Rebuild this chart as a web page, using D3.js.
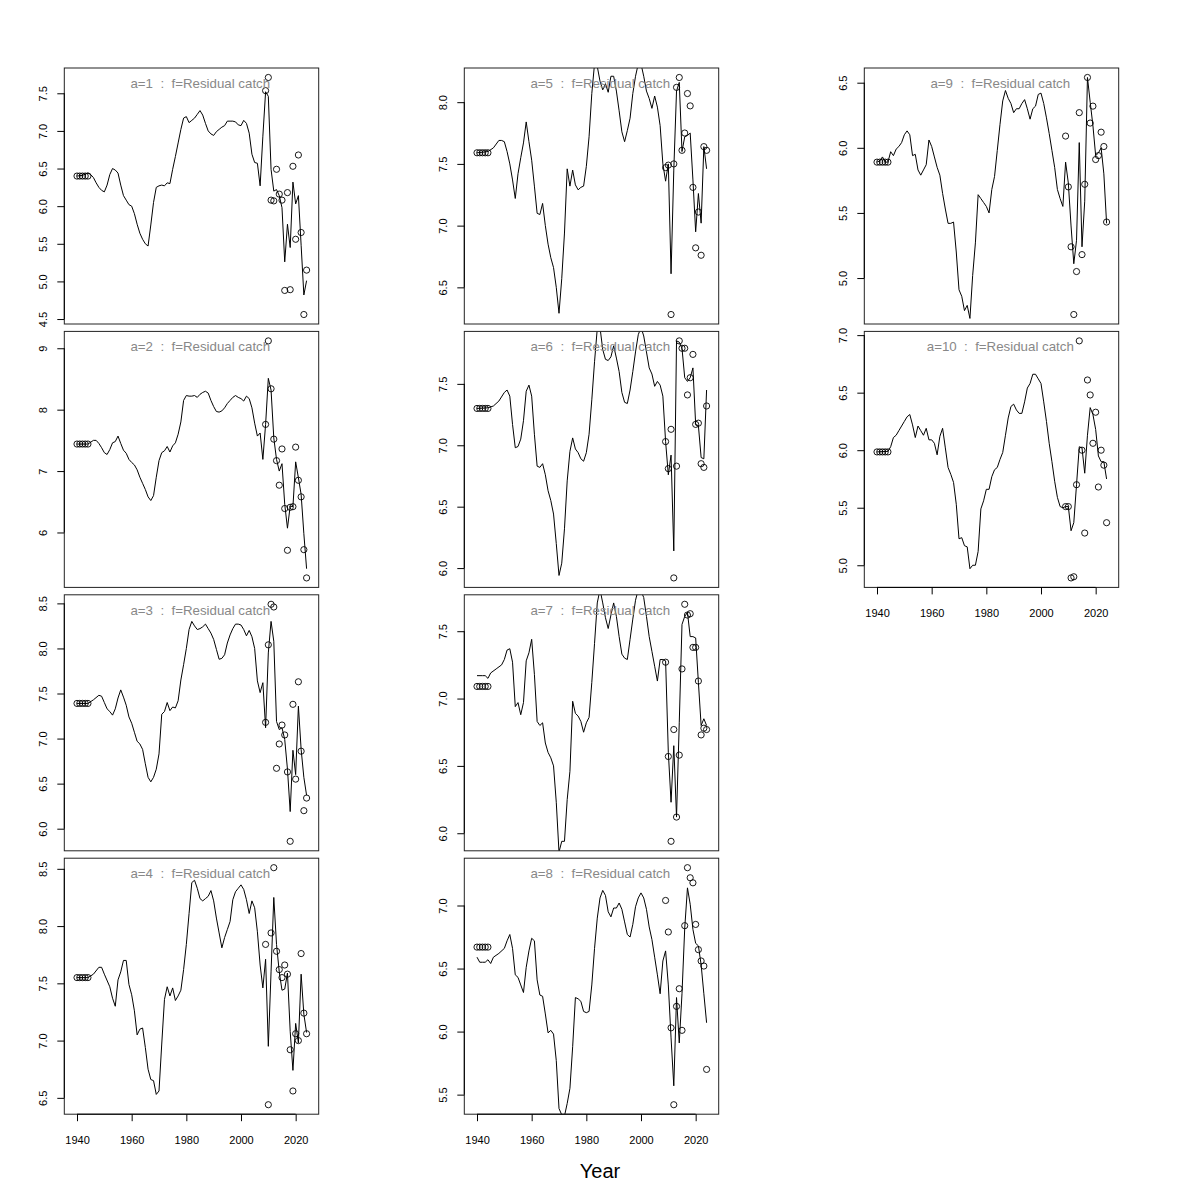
<!DOCTYPE html>
<html><head><meta charset="utf-8">
<script src="https://cdn.jsdelivr.net/npm/d3@7"></script>
<style>body{margin:0;background:#fff}svg{display:block}</style>
</head><body>
<svg id="chart" width="1200" height="1200"></svg>
<script>
// ---------- data ----------
const panelLabels = ["a=1","a=2","a=3","a=4","a=5","a=6","a=7","a=8","a=9","a=10"];
const fleetLabel = "f=Residual catch";
const xTickYears = [1940,1960,1980,2000,2020];
const obsYears = [1940,1941,1942,1943,1944,2009,2010,2011,2012,2013,2014,2015,2016,2017,2018,2019,2020,2021,2022,2023,2024];

const obsA1 = [6.40,6.40,6.40,6.40,6.40,7.535,7.71,6.08,6.07,6.49,6.16,6.08,4.88,6.18,4.89,6.53,5.56,6.68,5.65,4.56,5.15];
const obsA2 = [7.44,7.44,7.44,7.44,7.44,7.76,9.12,8.34,7.52,7.17,6.77,7.36,6.39,5.71,6.41,6.42,7.39,6.85,6.58,5.72,5.26];
const obsA3 = [7.39,7.39,7.39,7.39,7.39,7.18,8.04,8.49,8.46,6.67,6.94,7.15,7.04,6.63,5.86,7.38,6.55,7.63,6.86,6.20,6.34];
const obsA4 = [7.55,7.55,7.55,7.55,7.55,7.84,6.44,7.94,8.51,7.78,7.62,7.55,7.66,7.58,6.92,6.56,7.06,7.00,7.76,7.24,7.06];
const obsA5 = [7.59,7.59,7.59,7.59,7.59,7.47,7.49,6.28,7.50,8.12,8.20,7.61,7.75,8.07,7.97,7.31,6.82,7.11,6.76,7.64,7.61];
const obsA6 = [7.30,7.30,7.30,7.30,7.30,7.03,6.81,7.13,5.92,6.83,7.85,7.79,7.79,7.41,7.55,7.74,7.17,7.18,6.85,6.82,7.32];
const obsA7 = [7.09,7.09,7.09,7.09,7.09,7.27,6.57,5.94,6.77,6.12,6.58,7.22,7.70,7.62,7.63,7.38,7.38,7.13,6.73,6.78,6.77];
const obsA8 = [6.67,6.67,6.67,6.67,6.67,7.04,6.79,6.03,5.42,6.20,6.34,6.01,6.84,7.30,7.22,7.18,6.85,6.65,6.56,6.52,5.70];
const obsA9 = [5.89,5.89,5.89,5.89,5.89,6.09,5.70,5.24,4.72,5.05,6.27,5.18,5.72,6.54,6.19,6.32,5.91,5.94,6.12,6.01,5.43];
const obsA10 = [5.985,5.985,5.985,5.985,5.985,5.51,5.51,4.89,4.90,5.70,6.95,6.00,5.28,6.61,6.48,6.06,6.33,5.68,6.00,5.87,5.37];

const lineA1 = [[1940,6.40],[1942,6.41],[1944,6.44],[1945,6.42],[1946,6.38],[1947,6.31],[1948,6.25],[1949,6.21],[1950,6.19],[1951,6.28],[1952,6.42],[1953,6.50],[1954,6.48],[1955,6.44],[1956,6.28],[1957,6.14],[1958,6.08],[1959,6.02],[1960,6.00],[1961,5.90],[1962,5.76],[1963,5.64],[1964,5.56],[1965,5.50],[1966,5.47],[1967,5.75],[1968,6.05],[1969,6.25],[1970,6.27],[1971,6.28],[1972,6.27],[1973,6.31],[1974,6.30],[1975,6.49],[1976,6.66],[1977,6.84],[1978,7.02],[1979,7.17],[1980,7.19],[1981,7.11],[1982,7.14],[1983,7.17],[1984,7.22],[1985,7.27],[1986,7.21],[1987,7.10],[1988,7.00],[1989,6.96],[1990,6.94],[1991,6.99],[1992,7.02],[1993,7.05],[1994,7.07],[1995,7.13],[1996,7.13],[1997,7.13],[1998,7.12],[1999,7.08],[2000,7.07],[2001,7.14],[2002,7.10],[2003,6.97],[2004,6.69],[2005,6.58],[2006,6.57],[2007,6.27],[2008,6.93],[2009,7.52],[2010,7.46],[2011,6.49],[2012,6.20],[2013,6.22],[2014,6.14],[2015,5.98],[2016,5.26],[2017,5.76],[2018,5.45],[2019,6.32],[2020,6.03],[2021,6.14],[2022,5.48],[2023,4.82],[2024,5.01]];
const lineA2 = [[1940,7.44],[1944,7.44],[1946,7.50],[1947,7.50],[1948,7.45],[1949,7.38],[1950,7.30],[1951,7.27],[1952,7.35],[1953,7.46],[1954,7.48],[1955,7.57],[1956,7.45],[1957,7.34],[1958,7.29],[1959,7.19],[1960,7.14],[1961,7.10],[1962,7.02],[1963,6.90],[1964,6.80],[1965,6.70],[1966,6.58],[1967,6.52],[1968,6.60],[1969,6.90],[1970,7.17],[1971,7.30],[1972,7.33],[1973,7.40],[1974,7.31],[1975,7.41],[1976,7.46],[1977,7.60],[1978,7.80],[1979,8.15],[1980,8.23],[1981,8.22],[1982,8.22],[1983,8.23],[1984,8.20],[1985,8.25],[1986,8.28],[1987,8.30],[1988,8.27],[1989,8.15],[1990,8.05],[1991,7.97],[1992,7.96],[1993,7.98],[1994,8.03],[1995,8.10],[1996,8.15],[1997,8.20],[1998,8.23],[1999,8.20],[2000,8.18],[2001,8.14],[2002,8.22],[2003,8.18],[2004,8.03],[2005,7.78],[2006,7.57],[2007,7.62],[2008,7.19],[2009,7.76],[2010,8.51],[2011,8.32],[2012,7.54],[2013,7.19],[2014,7.00],[2015,7.12],[2016,6.46],[2017,6.07],[2018,6.43],[2019,6.42],[2020,7.15],[2021,6.89],[2022,6.62],[2023,5.98],[2024,5.41]];
const lineA3 = [[1940,7.39],[1944,7.39],[1946,7.43],[1948,7.48],[1949,7.47],[1950,7.40],[1951,7.33],[1952,7.30],[1953,7.26],[1954,7.33],[1955,7.45],[1956,7.54],[1957,7.46],[1958,7.37],[1959,7.24],[1960,7.17],[1961,7.07],[1962,6.97],[1963,6.94],[1964,6.88],[1965,6.72],[1966,6.57],[1967,6.52],[1968,6.57],[1969,6.66],[1970,6.83],[1971,7.27],[1972,7.30],[1973,7.40],[1974,7.31],[1975,7.35],[1976,7.34],[1977,7.42],[1978,7.65],[1979,7.82],[1980,8.00],[1981,8.21],[1982,8.30],[1983,8.25],[1984,8.21],[1985,8.22],[1986,8.24],[1987,8.27],[1988,8.22],[1989,8.17],[1990,8.10],[1991,7.99],[1992,7.88],[1993,7.89],[1994,7.93],[1995,8.06],[1996,8.15],[1997,8.22],[1998,8.27],[1999,8.27],[2000,8.26],[2001,8.21],[2002,8.14],[2003,8.20],[2004,8.13],[2005,8.00],[2006,7.64],[2007,7.51],[2008,7.62],[2009,7.12],[2010,7.95],[2011,8.30],[2012,8.08],[2013,7.19],[2014,7.10],[2015,7.12],[2016,6.99],[2017,6.66],[2018,6.19],[2019,6.87],[2020,6.60],[2021,7.36],[2022,6.88],[2023,6.57],[2024,6.37]];
const lineA4 = [[1940,7.55],[1944,7.55],[1946,7.58],[1948,7.64],[1949,7.64],[1950,7.58],[1952,7.47],[1953,7.37],[1954,7.30],[1955,7.53],[1956,7.60],[1957,7.70],[1958,7.70],[1959,7.49],[1960,7.40],[1961,7.26],[1962,7.05],[1963,7.10],[1964,7.11],[1965,6.94],[1966,6.75],[1967,6.66],[1968,6.65],[1969,6.53],[1970,6.56],[1971,6.97],[1972,7.36],[1973,7.47],[1974,7.39],[1975,7.46],[1976,7.35],[1977,7.39],[1978,7.44],[1979,7.62],[1980,7.84],[1981,8.11],[1982,8.38],[1983,8.40],[1984,8.33],[1985,8.24],[1986,8.22],[1987,8.24],[1988,8.26],[1989,8.31],[1990,8.22],[1991,8.07],[1992,7.94],[1993,7.81],[1994,7.90],[1995,7.97],[1996,8.04],[1997,8.23],[1998,8.30],[1999,8.33],[2000,8.36],[2001,8.32],[2002,8.23],[2003,8.11],[2004,8.22],[2005,8.16],[2006,7.95],[2007,7.66],[2008,7.46],[2009,7.71],[2010,6.95],[2011,7.60],[2012,8.25],[2013,7.84],[2014,7.60],[2015,7.44],[2016,7.45],[2017,7.59],[2018,7.08],[2019,6.74],[2020,7.15],[2021,6.98],[2022,7.58],[2023,7.23],[2024,7.07]];
const lineA5 = [[1940,7.59],[1944,7.60],[1946,7.63],[1948,7.69],[1949,7.69],[1950,7.68],[1951,7.60],[1952,7.50],[1953,7.37],[1954,7.22],[1955,7.42],[1956,7.55],[1957,7.67],[1958,7.84],[1959,7.68],[1960,7.53],[1961,7.32],[1962,7.10],[1963,7.09],[1964,7.18],[1965,7.00],[1966,6.85],[1967,6.74],[1968,6.66],[1969,6.50],[1970,6.29],[1971,6.57],[1972,6.94],[1973,7.46],[1974,7.32],[1975,7.45],[1976,7.33],[1977,7.29],[1978,7.31],[1979,7.32],[1980,7.48],[1981,7.72],[1982,8.07],[1983,8.31],[1984,8.29],[1985,8.17],[1986,8.10],[1987,8.15],[1988,8.08],[1989,8.21],[1990,8.21],[1991,8.09],[1992,7.93],[1993,7.76],[1994,7.68],[1995,7.77],[1996,7.87],[1997,8.07],[1998,8.21],[1999,8.31],[2000,8.31],[2001,8.21],[2002,8.09],[2003,8.03],[2004,7.95],[2005,8.05],[2006,7.96],[2007,7.81],[2008,7.50],[2009,7.36],[2010,7.50],[2011,6.61],[2012,7.45],[2013,8.09],[2014,8.16],[2015,7.60],[2016,7.72],[2017,7.73],[2018,7.75],[2019,7.37],[2020,6.95],[2021,7.26],[2022,7.02],[2023,7.64],[2024,7.46]];
const lineA6 = [[1940,7.30],[1944,7.305],[1946,7.32],[1948,7.36],[1950,7.43],[1951,7.45],[1952,7.40],[1953,7.17],[1954,6.98],[1955,6.99],[1956,7.05],[1957,7.20],[1958,7.44],[1959,7.49],[1960,7.40],[1961,7.09],[1962,6.83],[1963,6.82],[1964,6.85],[1965,6.76],[1966,6.63],[1967,6.55],[1968,6.44],[1969,6.20],[1970,5.94],[1971,6.04],[1972,6.32],[1973,6.71],[1974,6.95],[1975,7.06],[1976,6.97],[1977,6.94],[1978,6.89],[1979,6.87],[1980,6.94],[1981,7.09],[1982,7.37],[1983,7.68],[1984,7.95],[1985,7.96],[1986,7.78],[1987,7.70],[1988,7.69],[1989,7.72],[1990,7.81],[1991,7.71],[1992,7.60],[1993,7.43],[1994,7.35],[1995,7.34],[1996,7.45],[1997,7.60],[1998,7.76],[1999,7.90],[2000,7.96],[2001,7.89],[2002,7.76],[2003,7.63],[2004,7.58],[2005,7.48],[2006,7.52],[2007,7.49],[2008,7.40],[2009,7.03],[2010,6.76],[2011,6.92],[2012,6.14],[2013,7.85],[2014,7.84],[2015,7.79],[2016,7.55],[2017,7.52],[2018,7.55],[2019,7.63],[2020,7.17],[2021,7.16],[2022,6.90],[2023,6.89],[2024,7.45]];
const lineA7 = [[1940,7.17],[1942,7.17],[1943,7.17],[1944,7.15],[1945,7.19],[1947,7.22],[1949,7.25],[1950,7.29],[1951,7.36],[1952,7.37],[1953,7.27],[1954,6.94],[1955,6.97],[1956,6.88],[1957,6.97],[1958,7.28],[1959,7.34],[1960,7.44],[1961,7.18],[1962,6.83],[1963,6.80],[1964,6.82],[1965,6.67],[1966,6.60],[1967,6.56],[1968,6.50],[1969,6.23],[1970,5.86],[1971,5.94],[1972,5.94],[1973,6.25],[1974,6.46],[1975,6.98],[1976,6.89],[1977,6.87],[1978,6.83],[1979,6.75],[1980,6.82],[1981,6.86],[1982,7.12],[1983,7.41],[1984,7.71],[1985,7.81],[1986,7.71],[1987,7.60],[1988,7.52],[1989,7.62],[1990,7.71],[1991,7.61],[1992,7.46],[1993,7.33],[1994,7.30],[1995,7.29],[1996,7.44],[1997,7.59],[1998,7.73],[1999,7.81],[2000,7.80],[2001,7.75],[2002,7.61],[2003,7.46],[2004,7.35],[2005,7.24],[2006,7.13],[2007,7.29],[2008,7.29],[2009,7.28],[2010,6.60],[2011,6.23],[2012,6.65],[2013,6.12],[2014,6.82],[2015,7.55],[2016,7.61],[2017,7.64],[2018,7.46],[2019,7.46],[2020,7.45],[2021,7.12],[2022,6.80],[2023,6.85],[2024,6.80]];
const lineA8 = [[1940,6.59],[1941,6.55],[1942,6.55],[1943,6.55],[1944,6.57],[1945,6.54],[1946,6.59],[1948,6.62],[1950,6.66],[1951,6.72],[1952,6.77],[1953,6.66],[1954,6.45],[1955,6.43],[1956,6.37],[1957,6.31],[1958,6.51],[1959,6.64],[1960,6.74],[1961,6.72],[1962,6.41],[1963,6.29],[1964,6.28],[1965,6.14],[1966,5.99],[1967,6.01],[1968,5.98],[1969,5.77],[1970,5.39],[1971,5.34],[1972,5.33],[1973,5.43],[1974,5.55],[1975,5.88],[1976,6.27],[1977,6.26],[1978,6.24],[1979,6.16],[1980,6.15],[1981,6.16],[1982,6.37],[1983,6.66],[1984,6.90],[1985,7.06],[1986,7.12],[1987,7.08],[1988,6.95],[1989,6.91],[1990,6.98],[1991,6.98],[1992,7.02],[1993,6.97],[1994,6.87],[1995,6.77],[1996,6.75],[1997,6.85],[1998,6.99],[1999,7.06],[2000,7.10],[2001,7.06],[2002,6.97],[2003,6.83],[2004,6.73],[2005,6.59],[2006,6.45],[2007,6.30],[2008,6.56],[2009,6.64],[2010,6.37],[2011,5.95],[2012,5.57],[2013,6.27],[2014,5.91],[2015,6.30],[2016,6.82],[2017,7.14],[2018,7.01],[2019,6.81],[2020,6.70],[2021,6.68],[2022,6.53],[2023,6.30],[2024,6.07]];
const lineA9 = [[1940,5.89],[1941,5.90],[1942,5.93],[1943,5.89],[1944,5.89],[1945,5.97],[1946,5.94],[1947,5.99],[1948,6.01],[1949,6.04],[1950,6.10],[1951,6.13],[1952,6.10],[1953,5.94],[1954,5.95],[1955,5.83],[1956,5.79],[1957,5.83],[1958,5.87],[1959,6.06],[1960,6.01],[1961,5.93],[1962,5.85],[1963,5.79],[1964,5.65],[1965,5.53],[1966,5.42],[1967,5.42],[1968,5.43],[1969,5.20],[1970,4.91],[1971,4.86],[1972,4.75],[1973,4.79],[1974,4.69],[1975,5.02],[1976,5.27],[1977,5.64],[1978,5.61],[1979,5.58],[1980,5.55],[1981,5.50],[1982,5.68],[1983,5.78],[1984,5.98],[1985,6.18],[1986,6.36],[1987,6.44],[1988,6.38],[1989,6.34],[1990,6.27],[1991,6.30],[1992,6.30],[1993,6.34],[1994,6.37],[1995,6.30],[1996,6.22],[1997,6.30],[1998,6.32],[1999,6.41],[2000,6.42],[2001,6.34],[2002,6.23],[2003,6.11],[2004,5.98],[2005,5.85],[2006,5.68],[2007,5.61],[2008,5.55],[2009,5.89],[2010,5.73],[2011,5.40],[2012,5.11],[2013,5.29],[2014,6.04],[2015,5.24],[2016,5.59],[2017,6.54],[2018,6.35],[2019,6.17],[2020,5.94],[2021,5.96],[2022,6.00],[2023,5.80],[2024,5.42]];
const lineA10 = [[1940,5.985],[1944,5.99],[1945,6.03],[1946,6.11],[1947,6.13],[1948,6.17],[1949,6.21],[1950,6.25],[1951,6.29],[1952,6.31],[1953,6.22],[1954,6.11],[1955,6.21],[1956,6.17],[1957,6.13],[1958,6.19],[1959,6.09],[1960,6.09],[1961,6.06],[1962,5.96],[1963,6.12],[1964,6.19],[1965,6.02],[1966,5.85],[1967,5.79],[1968,5.72],[1969,5.53],[1970,5.23],[1971,5.24],[1972,5.17],[1973,5.16],[1974,4.97],[1975,5.00],[1976,5.00],[1977,5.12],[1978,5.49],[1979,5.56],[1980,5.66],[1981,5.66],[1982,5.77],[1983,5.83],[1984,5.85],[1985,5.92],[1986,5.98],[1987,6.13],[1988,6.28],[1989,6.38],[1990,6.40],[1991,6.35],[1992,6.32],[1993,6.32],[1994,6.42],[1995,6.54],[1996,6.58],[1997,6.66],[1998,6.66],[1999,6.62],[2000,6.58],[2001,6.42],[2002,6.25],[2003,6.06],[2004,5.90],[2005,5.73],[2006,5.59],[2007,5.51],[2008,5.50],[2009,5.51],[2010,5.51],[2011,5.30],[2012,5.37],[2013,5.70],[2014,6.03],[2015,6.02],[2016,5.80],[2017,6.13],[2018,6.37],[2019,6.31],[2020,6.18],[2021,5.95],[2022,5.90],[2023,5.90],[2024,5.75]];

const ticksA1 = [4.5,5,5.5,6,6.5,7,7.5];
const ticksA2 = [6,7,8,9];
const ticksA3 = [6,6.5,7,7.5,8,8.5];
const ticksA4 = [6.5,7,7.5,8,8.5];
const ticksA5 = [6.5,7,7.5,8];
const ticksA6 = [6,6.5,7,7.5];
const ticksA7 = [6,6.5,7,7.5];
const ticksA8 = [5.5,6,6.5,7];
const ticksA9 = [5,5.5,6,6.5];
const ticksA10 = [5,5.5,6,6.5,7];

// table for drawing
const lines = [lineA1,lineA2,lineA3,lineA4,lineA5,lineA6,lineA7,lineA8,lineA9,lineA10];
const obs = [obsA1,obsA2,obsA3,obsA4,obsA5,obsA6,obsA7,obsA8,obsA9,obsA10];
const ticks = [ticksA1,ticksA2,ticksA3,ticksA4,ticksA5,ticksA6,ticksA7,ticksA8,ticksA9,ticksA10];
const xAxisPanels = [3,7,9];

// ---------- layout ----------
const FONT = "'Liberation Sans', Arial, Helvetica, sans-serif";
const colLeft = [64.3, 464.3, 864.3];
const boxW = 254.4, boxH = 256, rowTop0 = 68, rowStep = 263.4;
const xDomain = [1935.35, 2028.43];

const svg = d3.select("#chart");
svg.append("rect").attr("width",1200).attr("height",1200).attr("fill","#fff");

panelLabels.forEach((lab, i) => {
  const col = Math.floor(i / 4), row = i % 4;
  const L = colLeft[col], T = rowTop0 + row * rowStep;
  const x = d3.scaleLinear().domain(xDomain).range([L, L + boxW]);
  const ext = d3.extent(obs[i]);
  const pad = (ext[1] - ext[0]) * 0.04;
  const y = d3.scaleLinear().domain([ext[0] - pad, ext[1] + pad]).range([T + boxH, T]);

  const g = svg.append("g");
  const clipId = "clip" + i;
  svg.append("clipPath").attr("id", clipId)
    .append("rect").attr("x", L).attr("y", T).attr("width", boxW).attr("height", boxH);

  // line
  g.append("path")
    .datum(lines[i])
    .attr("clip-path", `url(#${clipId})`)
    .attr("fill", "none").attr("stroke", "#000").attr("stroke-width", 1)
    .attr("d", d3.line().x(d => x(d[0])).y(d => y(d[1])));

  // observed points
  g.append("g")
    .selectAll("circle").data(obs[i].map((v, k) => [obsYears[k], v]))
    .join("circle")
    .attr("cx", d => x(d[0])).attr("cy", d => y(d[1])).attr("r", 3.1)
    .attr("fill", "none").attr("stroke", "#000").attr("stroke-width", 0.9);

  // title
  g.append("text")
    .attr("x", L + 136).attr("y", T + 20)
    .attr("text-anchor", "middle")
    .attr("fill", "#888")
    .attr("font-family", FONT).attr("font-size", 13.3)
    .style("white-space", "pre")
    .text(lab + "  :  " + fleetLabel);

  // box
  g.append("rect").attr("x", L).attr("y", T).attr("width", boxW).attr("height", boxH)
    .attr("fill", "none").attr("stroke", "#222").attr("stroke-width", 1);

  // y axis
  const fmt = i === 1 ? d3.format("d") : d3.format(".1f");
  const ya = g.append("g").attr("transform", `translate(${L},0)`)
    .call(d3.axisLeft(y).tickValues(ticks[i]).tickSize(7).tickFormat(fmt));
  ya.select(".domain").remove();
  ya.selectAll(".tick line").attr("stroke", "#000");
  ya.selectAll(".tick text")
    .attr("transform", "rotate(-90)")
    .attr("x", 0).attr("y", -17).attr("dy", 0)
    .attr("text-anchor", "middle")
    .attr("fill", "#000")
    .attr("font-family", FONT).attr("font-size", 11);
  const tk = ticks[i];
  g.append("line").attr("x1", L).attr("x2", L)
    .attr("y1", y(tk[0])).attr("y2", y(tk[tk.length - 1])).attr("stroke", "#000");

  if (xAxisPanels.includes(i)) {
    const xa = g.append("g").attr("transform", `translate(0,${T + boxH})`)
      .call(d3.axisBottom(x).tickValues(xTickYears).tickSize(7).tickFormat(d3.format("d")));
    xa.select(".domain").remove();
    xa.selectAll(".tick line").attr("stroke", "#000");
    xa.selectAll(".tick text")
      .attr("y", 30).attr("dy", 0)
      .attr("fill", "#000")
      .attr("font-family", FONT).attr("font-size", 11);
    g.append("line").attr("y1", T + boxH).attr("y2", T + boxH)
      .attr("x1", x(xTickYears[0])).attr("x2", x(xTickYears[xTickYears.length - 1])).attr("stroke", "#000");
  }
});

svg.append("text").attr("x", 600).attr("y", 1178)
  .attr("text-anchor", "middle").attr("font-family", FONT).attr("font-size", 20)
  .attr("fill", "#000").text("Year");
</script>
</body></html>
